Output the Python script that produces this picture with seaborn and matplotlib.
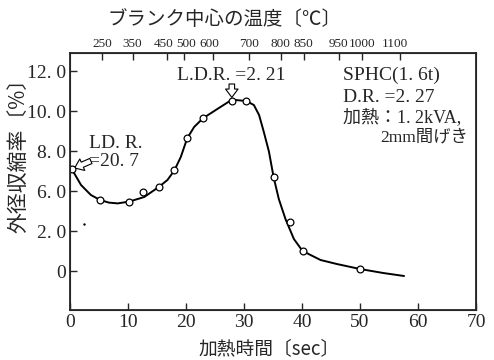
import numpy as np
import pandas as pd
import matplotlib
matplotlib.use("Agg")
import matplotlib.pyplot as plt
import matplotlib.transforms as mtrans
import seaborn as sns

# measured points (heating time [s], shrink ratio [%])
time_pts = [0.3, 5.2, 10.2, 12.6, 15.3, 18.0, 20.2, 22.9, 27.9, 30.4, 35.1, 38.0, 40.1, 50.0]
shrink_pts = [7.1, 5.55, 5.47, 5.97, 6.2, 7.03, 8.63, 9.63, 10.5, 10.5, 6.7, 4.47, 3.0, 2.1]

# hand drawn curve
curve_t = [0.3, 1.9, 3.6, 5.2, 6.7, 8.2, 10.2, 12.8, 15.3, 16.8, 18.0, 19.1, 20.2, 21.4,
           22.9, 25.4, 27.4, 28.5, 30.4, 31.7, 32.6, 33.4, 34.3, 35.1, 36.0, 37.15,
           38.6, 40.1, 43.2, 46.0, 50.0, 54.0, 57.6]
curve_v = [7.1, 6.3, 5.8, 5.55, 5.42, 5.38, 5.47, 5.7, 6.2, 6.55, 7.03, 7.7, 8.63, 9.2,
           9.63, 10.1, 10.47, 10.55, 10.5, 10.3, 9.8, 8.97, 7.97, 6.7, 5.6, 4.6,
           3.6, 3.0, 2.55, 2.35, 2.1, 1.9, 1.75]

# stray dot in the scan
dot_t = [2.4]
dot_v = [4.35]

# y ticks as printed in the original
ytick_pos = [2, 4, 6, 8, 10, 12]
ytick_lab = ['0', '2. 0', '6. 0', '8. 0', '10. 0', '12. 0']

# top axis: blank centre temperature
temp_lab = ['250', '350', '450', '500', '600', '700', '800', '850', '950', '1000', '1100']
temp_time = [5.6, 10.8, 16.7, 19.7, 24.6, 30.8, 36.3, 40.3, 46.3, 50.4, 56.9]

sns.set_style("ticks")
plt.rcParams['font.family'] = ['Liberation Serif', 'Noto Sans CJK JP', 'DejaVu Sans']
jp = ['Noto Sans CJK JP', 'DejaVu Sans']

fig = plt.figure(figsize=(4.94, 3.6), dpi=100)
ax = fig.add_axes([70/494, 50/360, 406/494, 257/360])

curve = pd.DataFrame({'t': curve_t, 'v': curve_v})
pts = pd.DataFrame({'t': time_pts, 'v': shrink_pts})
sns.lineplot(data=curve, x='t', y='v', color='black', lw=1.4, ax=ax, sort=False,
             solid_joinstyle='round', solid_capstyle='round')
sns.scatterplot(data=pts, x='t', y='v', marker='o', s=24, facecolor='white',
                edgecolor='black', linewidth=0.9, zorder=5, ax=ax)
sns.scatterplot(x=dot_t, y=dot_v, color='black', s=3, linewidth=0, ax=ax)

ax.set_xlim(0, 70)
ax.set_ylim(0.05, 12.9)
ax.set_xticks(range(0, 71, 10))
ax.set_yticks(ytick_pos)
ax.set_yticklabels(ytick_lab)
ax.tick_params(direction='in', length=5, width=1, labelsize=14, pad=3)
for s in ax.spines.values():
    s.set_linewidth(1.3)
ax.set_xlabel('加熱時間〔sec〕', family=jp, fontsize=13.5)
ax.xaxis.set_label_coords(0.491, -0.11)
ax.set_ylabel('外径収縮率〔%〕', family=jp, fontsize=15)
ax.yaxis.set_label_coords(-0.1, 0.62)

top = ax.twiny()
top.set_xlim(0, 70)
top.set_xticks(temp_time)
top.set_xticklabels(temp_lab)
top.tick_params(direction='in', length=5, width=1, labelsize=9.5, pad=2)
# nudge the crowded labels apart like the print
nudge = {'450': -3, '500': 2, '600': -3, '1100': -5}
for lab in top.get_xticklabels():
    dx = nudge.get(lab.get_text(), 0)
    if dx:
        lab.set_transform(lab.get_transform() + mtrans.ScaledTranslation(dx / 100, 0, fig.dpi_scale_trans))
top.set_xlabel('ブランク中心の温度〔℃〕', family=jp, fontsize=14)
top.xaxis.set_label_coords(0.38, 1.11)

# annotations: hollow block arrows
arrow = dict(arrowstyle='simple,head_width=0.9,head_length=0.6,tail_width=0.4',
             fc='white', ec='black', lw=0.8, mutation_scale=10, shrinkA=0, shrinkB=0)
ax.text(3.3, 8.35, 'LD. R.', fontsize=14, va='center', ha='left')
ax.text(3.3, 7.45, '=20. 7', fontsize=14, va='center', ha='left')
ax.annotate('', xy=(0.8, 7.15), xytext=(3.6, 7.5), arrowprops=arrow)
ax.text(18.5, 11.8, 'L.D.R. =2. 21', fontsize=14, va='center', ha='left')
ax.annotate('', xy=(27.9, 10.68), xytext=(27.9, 11.35), arrowprops=arrow)

ax.text(47.0, 11.8, 'SPHC(1. 6t)', fontsize=14, va='center', ha='left')
ax.text(47.0, 10.7, 'D.R. =2. 27', fontsize=14, va='center', ha='left')
ax.text(47.0, 9.65, '加熱：1. 2kVA,', fontsize=13, va='center', ha='left')
ax.text(68.6, 8.7, '2mm間げき', fontsize=12.5, va='center', ha='right')

fig.savefig('out.png', dpi=100)
